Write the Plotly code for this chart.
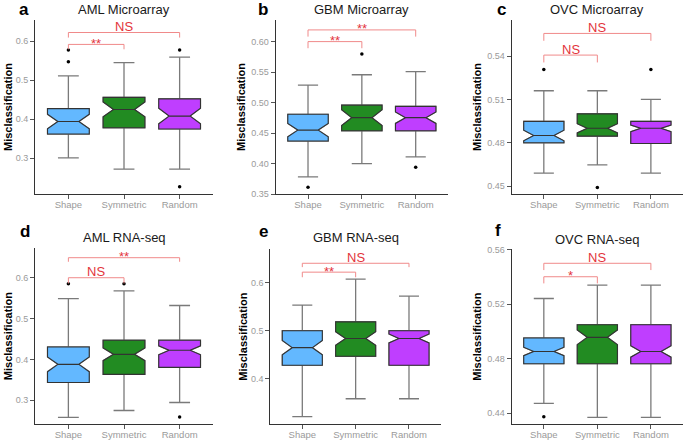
import plotly.graph_objects as go

W, H = 685, 441

categories = ["Shape", "Symmetric", "Random"]
cat_pos = [1, 2, 3]
fill_colors = ["#63B8FF", "#228B22", "#BF3EFF"]

panel_letters = ["a", "b", "c", "d", "e", "f"]
panel_titles = ["AML Microarray", "GBM Microarray", "OVC Microarray",
                "AML RNA-seq", "GBM RNA-seq", "OVC RNA-seq"]

# ---- data ----
a_q1 = [0.362, 0.378, 0.375]
a_med = [0.394, 0.425, 0.408]
a_q3 = [0.427, 0.456, 0.452]
a_lo = [0.301, 0.272, 0.272]
a_hi = [0.511, 0.545, 0.559]
a_notch = [0.0185, 0.019, 0.020]
a_out_x = [1, 1, 3, 3]
a_out_y = [0.577, 0.547, 0.577, 0.227]

b_q1 = [0.437, 0.454, 0.454]
b_med = [0.455, 0.4755, 0.4755]
b_q3 = [0.481, 0.496, 0.494]
b_lo = [0.378, 0.400, 0.411]
b_hi = [0.529, 0.546, 0.551]
b_notch = [0.011, 0.013, 0.0095]
b_out_x = [1, 2, 3]
b_out_y = [0.361, 0.580, 0.394]

c_q1 = [0.480, 0.4846, 0.4795]
c_med = [0.485, 0.490, 0.490]
c_q3 = [0.4948, 0.500, 0.4948]
c_lo = [0.459, 0.4647, 0.459]
c_hi = [0.516, 0.516, 0.510]
c_notch = [0.0037, 0.0032, 0.0023]
c_out_x = [1, 2, 3]
c_out_y = [0.5308, 0.449, 0.5308]

d_q1 = [0.3437, 0.3634, 0.3806]
d_med = [0.388, 0.4125, 0.4224]
d_q3 = [0.4305, 0.447, 0.447]
d_lo = [0.258, 0.275, 0.2946]
d_hi = [0.549, 0.568, 0.532]
d_notch = [0.018, 0.0155, 0.011]
d_out_x = [1, 2, 3]
d_out_y = [0.585, 0.585, 0.259]

e_q1 = [0.4286, 0.447, 0.4286]
e_med = [0.465, 0.484, 0.484]
e_q3 = [0.500, 0.5185, 0.500]
e_lo = [0.322, 0.359, 0.359]
e_hi = [0.553, 0.607, 0.572]
e_notch = [0.015, 0.014, 0.0093]
e_out_x = []
e_out_y = []

f_q1 = [0.4763, 0.4763, 0.4763]
f_med = [0.4853, 0.4957, 0.4853]
f_q3 = [0.4952, 0.505, 0.505]
f_lo = [0.4471, 0.4368, 0.4368]
f_hi = [0.5243, 0.5341, 0.5341]
f_notch = [0.0031, 0.0054, 0.0042]
f_out_x = [1]
f_out_y = [0.4373]

# significance brackets: [Shape-Symmetric, Shape-Random]
a_br_top = [0.5915, 0.622]; a_br_tip = [0.579, 0.609]; a_br_lab = ["**", "NS"]
b_br_top = [0.6005, 0.6197]; b_br_tip = [0.5896, 0.6087]; b_br_lab = ["**", "**"]
c_br_top = [0.5407, 0.5557]; c_br_tip = [0.5356, 0.5506]; c_br_lab = ["NS", "NS"]
d_br_top = [0.600, 0.649]; d_br_tip = [0.586, 0.639]; d_br_lab = ["NS", "**"]
e_br_top = [0.6216, 0.640]; e_br_tip = [0.611, 0.632]; e_br_lab = ["**", "NS"]
f_br_top = [0.5403, 0.5502]; f_br_tip = [0.5354, 0.5452]; f_br_lab = ["*", "NS"]

# y ticks / ranges
a_yticks = [0.3, 0.4, 0.5, 0.6]; a_yrange = [0.2085, 0.654]
b_yticks = [0.35, 0.40, 0.45, 0.50, 0.55, 0.60]; b_yrange = [0.35, 0.636]
c_yticks = [0.45, 0.48, 0.51, 0.54]; c_yrange = [0.4445, 0.565]
d_yticks = [0.3, 0.4, 0.5, 0.6]; d_yrange = [0.242, 0.672]
e_yticks = [0.4, 0.5, 0.6]; e_yrange = [0.3066, 0.669]
f_yticks = [0.44, 0.48, 0.52, 0.56]; f_yrange = [0.4319, 0.5605]

panels = [
    dict(q1=a_q1, med=a_med, q3=a_q3, lo=a_lo, hi=a_hi, notch=a_notch, ox=a_out_x, oy=a_out_y,
         bt=a_br_top, bp=a_br_tip, bl=a_br_lab, yt=a_yticks, yr=a_yrange, fmt="%.1f"),
    dict(q1=b_q1, med=b_med, q3=b_q3, lo=b_lo, hi=b_hi, notch=b_notch, ox=b_out_x, oy=b_out_y,
         bt=b_br_top, bp=b_br_tip, bl=b_br_lab, yt=b_yticks, yr=b_yrange, fmt="%.2f"),
    dict(q1=c_q1, med=c_med, q3=c_q3, lo=c_lo, hi=c_hi, notch=c_notch, ox=c_out_x, oy=c_out_y,
         bt=c_br_top, bp=c_br_tip, bl=c_br_lab, yt=c_yticks, yr=c_yrange, fmt="%.2f"),
    dict(q1=d_q1, med=d_med, q3=d_q3, lo=d_lo, hi=d_hi, notch=d_notch, ox=d_out_x, oy=d_out_y,
         bt=d_br_top, bp=d_br_tip, bl=d_br_lab, yt=d_yticks, yr=d_yrange, fmt="%.1f"),
    dict(q1=e_q1, med=e_med, q3=e_q3, lo=e_lo, hi=e_hi, notch=e_notch, ox=e_out_x, oy=e_out_y,
         bt=e_br_top, bp=e_br_tip, bl=e_br_lab, yt=e_yticks, yr=e_yrange, fmt="%.1f"),
    dict(q1=f_q1, med=f_med, q3=f_q3, lo=f_lo, hi=f_hi, notch=f_notch, ox=f_out_x, oy=f_out_y,
         bt=f_br_top, bp=f_br_tip, bl=f_br_lab, yt=f_yticks, yr=f_yrange, fmt="%.2f"),
]

# layout in pixels: (x0, x1, ytop, ybottom)
boxes_px = [(35, 213, 20, 194), (275.7, 448, 20, 194), (511.7, 683, 20, 194),
            (35, 213, 248.3, 424), (270.3, 441, 249.3, 424), (511.7, 683, 249.3, 424)]
letter_px = [(24, 9.5), (263, 9.5), (501, 9.5), (25, 231), (263, 232), (498, 230)]
title_y_px = [9, 9, 9, 237, 237, 239]
ytitle_x_px = [8, 241, 477, 8, 243, 477]

FONT = "Liberation Sans, Arial, sans-serif"
BR_COLOR = "#F08A8A"
TX_COLOR = "#E3343C"
TICK_GREY = "#9a9a9a"

fig = go.Figure()
annotations = []
shapes = []
layout = {}

for i, p in enumerate(panels):
    n = i + 1
    xa = "x" if n == 1 else f"x{n}"
    ya = "y" if n == 1 else f"y{n}"
    x0, x1, yt, yb = boxes_px[i]
    dom_x = [x0 / W, x1 / W]
    dom_y = [1 - yb / H, 1 - yt / H]

    for k in range(3):
        # whiskers (grey)
        fig.add_trace(go.Box(
            x=[cat_pos[k]], q1=[p["q1"][k]], median=[p["med"][k]], q3=[p["q3"][k]],
            lowerfence=[p["lo"][k]], upperfence=[p["hi"][k]],
            notched=True, notchspan=[p["notch"][k]], width=0.75,
            fillcolor=fill_colors[k], line=dict(color="#7a7a7a", width=1.3),
            boxpoints=False, showlegend=False, hoverinfo="skip", xaxis=xa, yaxis=ya))
        # box body (dark outline)
        fig.add_trace(go.Box(
            x=[cat_pos[k]], q1=[p["q1"][k]], median=[p["med"][k]], q3=[p["q3"][k]],
            lowerfence=[p["q1"][k]], upperfence=[p["q3"][k]],
            notched=True, notchspan=[p["notch"][k]], width=0.75,
            fillcolor=fill_colors[k], line=dict(color="#333333", width=1.1),
            boxpoints=False, showlegend=False, hoverinfo="skip", xaxis=xa, yaxis=ya))
    if p["ox"]:
        fig.add_trace(go.Scatter(x=p["ox"], y=p["oy"], mode="markers",
                                 marker=dict(color="black", size=3.5),
                                 showlegend=False, hoverinfo="skip", xaxis=xa, yaxis=ya))

    # brackets
    pairs = [(1, 2), (1, 3)]
    for j, (c1, c2) in enumerate(pairs):
        top, tip = p["bt"][j], p["bp"][j]
        shapes.append(dict(type="path", xref=xa, yref=ya,
                           path=f"M {c1} {tip} L {c1} {top} L {c2} {top} L {c2} {tip}",
                           line=dict(color=BR_COLOR, width=1)))
        lab = p["bl"][j]
        annotations.append(dict(xref=xa, yref=ya, x=(c1 + c2) / 2, y=top, text=lab,
                                showarrow=False, xanchor="center", yanchor="middle",
                                yshift=6 if lab == "NS" else 1,
                                font=dict(family=FONT, size=13, color=TX_COLOR)))

    axkey_x = "xaxis" if n == 1 else f"xaxis{n}"
    axkey_y = "yaxis" if n == 1 else f"yaxis{n}"
    layout[axkey_x] = dict(domain=dom_x, anchor=ya, range=[0.4, 3.6], automargin=False,
                           tickvals=cat_pos, ticktext=categories,
                           showgrid=False, zeroline=False, showline=True,
                           linecolor="#333333", linewidth=1, ticks="outside",
                           ticklen=4, tickcolor="#555555", ticklabelstandoff=-2,
                           tickfont=dict(family=FONT, size=9.5, color=TICK_GREY))
    layout[axkey_y] = dict(domain=dom_y, anchor=xa, range=p["yr"], automargin=False,
                           tickvals=p["yt"], ticktext=[p["fmt"] % v for v in p["yt"]],
                           showgrid=False, zeroline=False, showline=True,
                           linecolor="#333333", linewidth=1, ticks="outside",
                           ticklen=4, tickcolor="#555555",
                           tickfont=dict(family=FONT, size=9, color=TICK_GREY))

    # panel letter
    lx, ly = letter_px[i]
    annotations.append(dict(xref="paper", yref="paper", x=lx / W, y=1 - ly / H,
                            text=f"<b>{panel_letters[i]}</b>", showarrow=False,
                            xanchor="center", yanchor="middle",
                            font=dict(family=FONT, size=17, color="black")))
    # panel title
    annotations.append(dict(xref="paper", yref="paper", x=(x0 + x1) / 2 / W,
                            y=1 - title_y_px[i] / H, text=panel_titles[i],
                            showarrow=False, xanchor="center", yanchor="middle",
                            font=dict(family=FONT, size=13, color="#1a1a1a")))
    # y-axis title
    annotations.append(dict(xref="paper", yref="paper", x=ytitle_x_px[i] / W,
                            y=1 - (yt + yb) / 2 / H, text="<b>Misclassification</b>",
                            textangle=-90, showarrow=False, xanchor="center",
                            yanchor="middle",
                            font=dict(family=FONT, size=11, color="black")))

fig.update_layout(
    template="none",
    width=W, height=H, autosize=False,
    margin=dict(l=0, r=0, t=0, b=0, pad=0, autoexpand=False),
    paper_bgcolor="white", plot_bgcolor="white",
    boxmode="overlay", showlegend=False,
    annotations=annotations, shapes=shapes,
    **layout,
)

fig.write_html(
    "out.html",
    config={"displayModeBar": False, "staticPlot": True},
    post_script="document.body.style.margin='0';document.body.style.padding='0';"
                "document.documentElement.style.margin='0';"
                "document.documentElement.style.overflow='hidden';",
)
